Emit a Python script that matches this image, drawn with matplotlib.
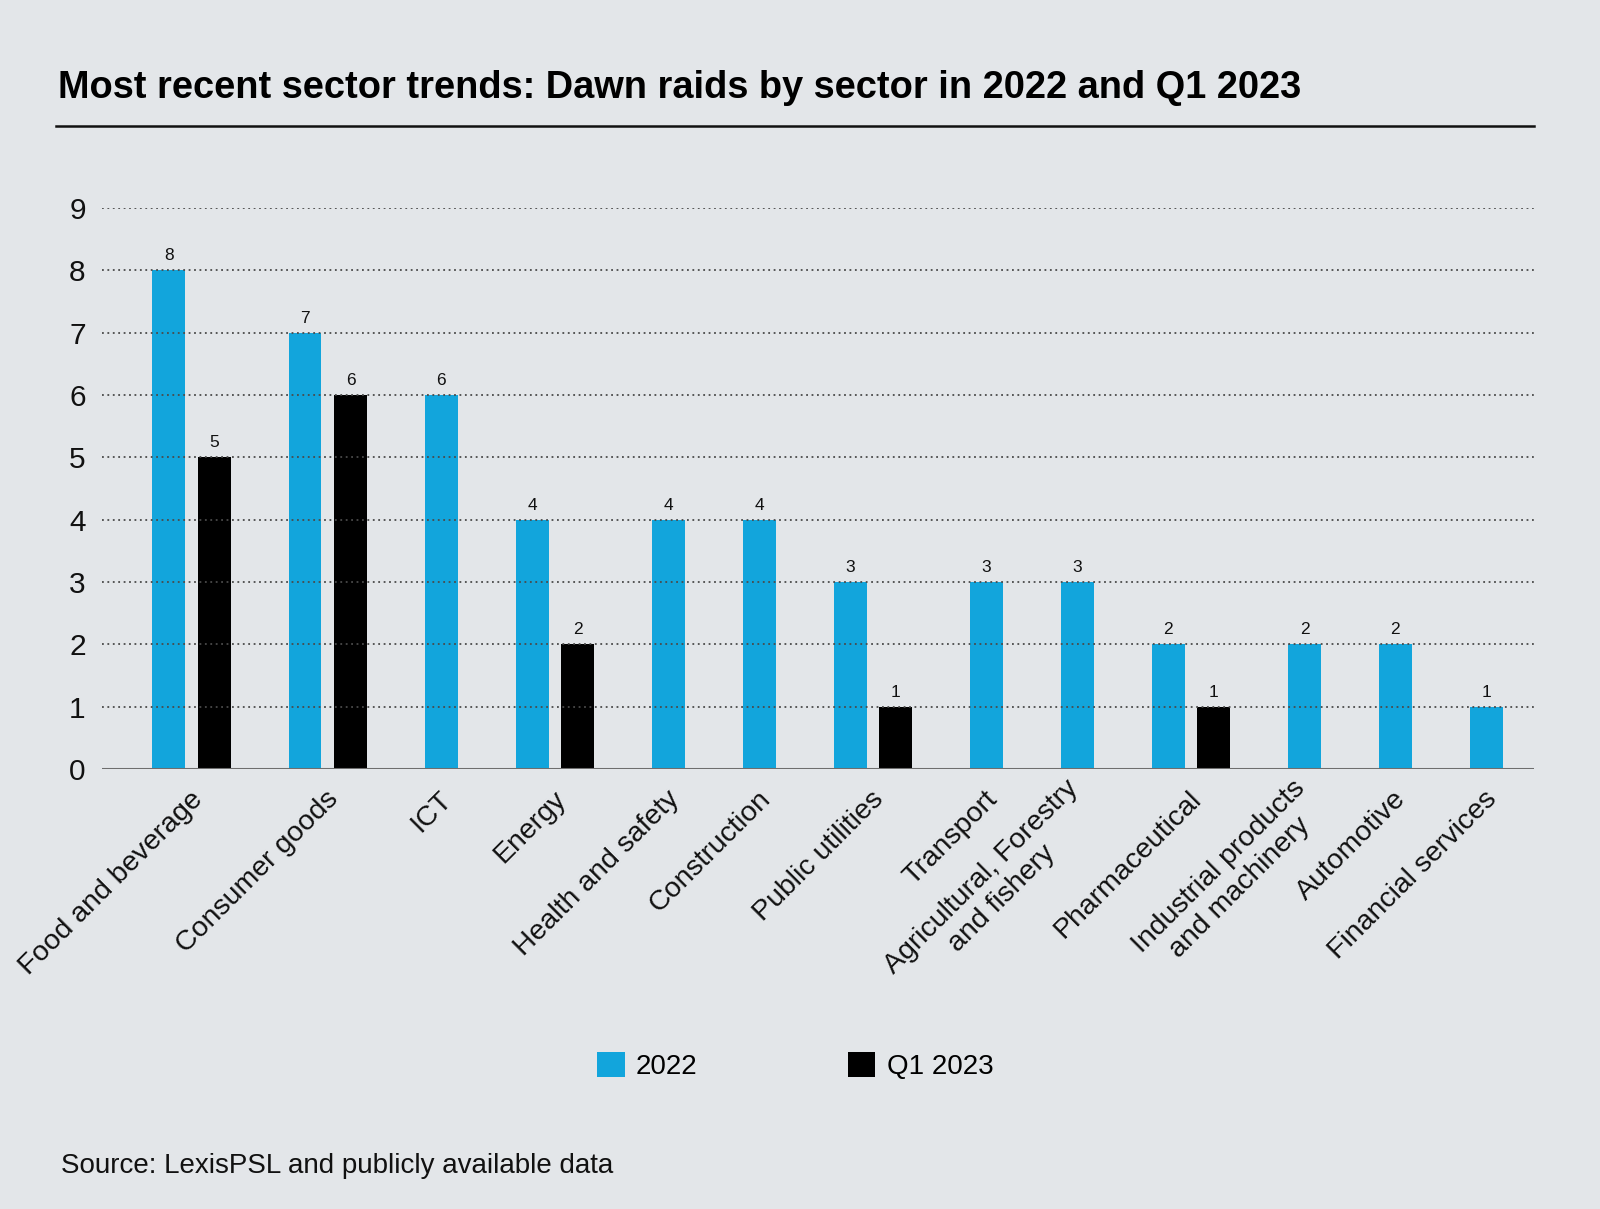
import matplotlib
matplotlib.use('Agg')
import matplotlib.pyplot as plt
from matplotlib.lines import Line2D
from matplotlib.patches import Patch
from matplotlib.transforms import ScaledTranslation

categories = [
    "Food and beverage",
    "Consumer goods",
    "ICT",
    "Energy",
    "Health and safety",
    "Construction",
    "Public utilities",
    "Transport",
    "Agricultural, Forestry\nand fishery",
    "Pharmaceutical",
    "Industrial products\nand machinery",
    "Automotive",
    "Financial services",
]
values_2022 = [8, 7, 6, 4, 4, 4, 3, 3, 3, 2, 2, 2, 1]
values_q1_2023 = [5, 6, 0, 2, 0, 0, 1, 0, 0, 1, 0, 0, 0]
series_labels = ["2022", "Q1 2023"]
yticks = [0, 1, 2, 3, 4, 5, 6, 7, 8, 9]
title = "Most recent sector trends: Dawn raids by sector in 2022 and Q1 2023"
source = "Source: LexisPSL and publicly available data"

BG = "#e3e6e9"
BLUE = "#12a5dc"
BLACK = "#000000"
REG = ["Liberation Sans", "DejaVu Sans"]

plt.rcParams["font.family"] = REG

fig = plt.figure(figsize=(16, 12.09), dpi=100, facecolor=BG)
ax = fig.add_axes([0.064, 0.364, 0.959 - 0.064, 0.828 - 0.364])
ax.set_facecolor(BG)

bar_w = 0.36
offset = 0.25
centers = []
x_blue, x_black, v_blue, v_black = [], [], [], []
left = 0.0
for a, b in zip(values_2022, values_q1_2023):
    n = int(a > 0) + int(b > 0)
    width = 1.0 + 0.5 * (n - 1)
    c = left + width / 2
    centers.append(c)
    if n == 2:
        x_blue.append(c - offset); v_blue.append(a)
        x_black.append(c + offset); v_black.append(b)
    else:
        if a > 0:
            x_blue.append(c); v_blue.append(a)
        if b > 0:
            x_black.append(c); v_black.append(b)
    left += width

ax.bar(x_blue, v_blue, width=bar_w, color=BLUE, zorder=1)
ax.bar(x_black, v_black, width=bar_w, color=BLACK, zorder=1)

for x, v in list(zip(x_blue, v_blue)) + list(zip(x_black, v_black)):
    ax.annotate(str(v), (x, v), xytext=(0, 5), textcoords="offset points",
                ha="center", va="bottom", fontsize=12.5, color="#111111")

ax.set_xlim(-0.23, left + 0.03)
ax.set_ylim(0, 9)
ax.set_yticks(yticks)
ax.set_yticklabels([str(t) for t in yticks])
ax.yaxis.grid(True, linestyle=(0, (1, 2)), color="#4a4a4a", linewidth=1.3)
ax.xaxis.grid(False)
ax.set_axisbelow(False)
ax.axhline(0, color="#6e6e6e", linewidth=2.2, zorder=4)
for s in ax.spines.values():
    s.set_visible(False)

ax.set_xticks(centers)
ax.set_xticklabels(categories, rotation=45, ha="right", va="center",
                   rotation_mode="anchor", multialignment="center")
ax.tick_params(axis="x", length=0, pad=19, labelsize=20.5, colors="#111111")
ax.tick_params(axis="y", length=0, pad=12, labelsize=21.5, colors="#111111")
shift = ScaledTranslation(0.07, 0, fig.dpi_scale_trans)
for lbl in ax.get_xticklabels():
    lbl.set_transform(lbl.get_transform() + shift)

fig.text(0.036, 0.919, title, fontsize=27.4, fontweight="bold",
         ha="left", va="baseline", color="#000000")
fig.add_artist(Line2D([0.035, 0.959], [0.896, 0.896], transform=fig.transFigure,
                      color="#111111", linewidth=1.8))

handles = [Patch(facecolor=BLUE), Patch(facecolor=BLACK)]
fig.legend(handles=handles, labels=series_labels, loc="center",
           bbox_to_anchor=(0.497, 0.118), ncol=2, frameon=False, fontsize=20,
           handlelength=1.0, handleheight=1.0, handletextpad=0.4,
           columnspacing=5.4)

fig.text(0.038, 0.030, source, fontsize=20, ha="left",
         va="baseline", color="#111111")

fig.savefig("out.png", dpi=100, facecolor=BG)
